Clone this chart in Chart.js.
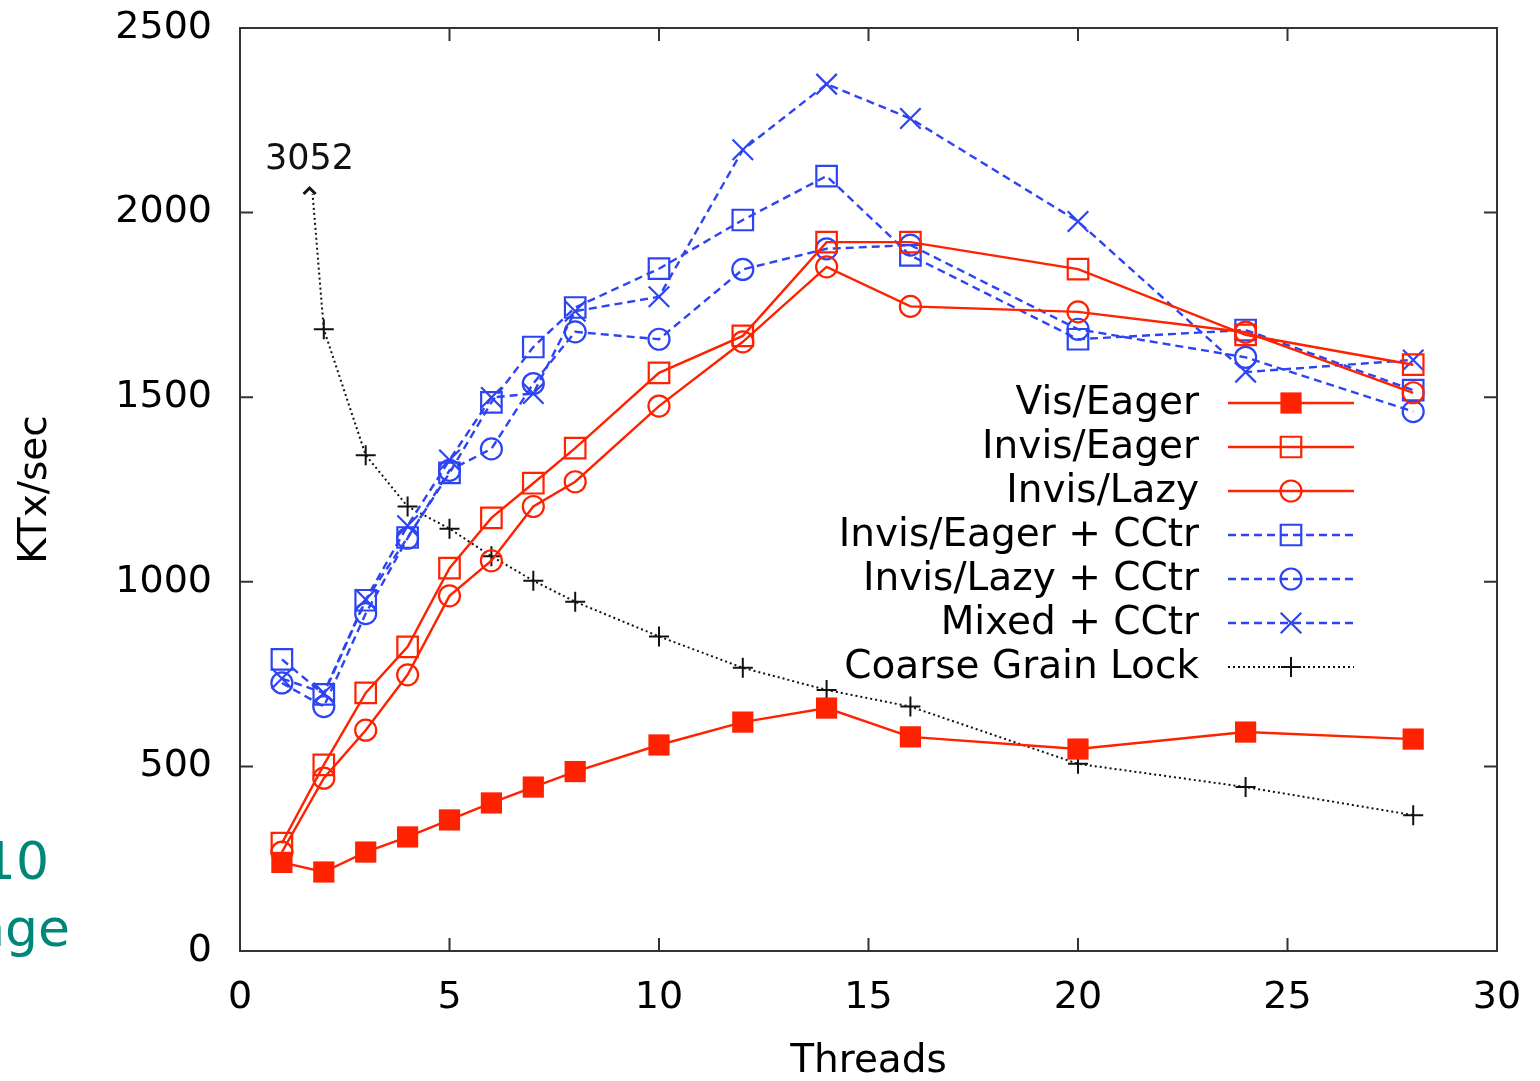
<!DOCTYPE html>
<html>
<head>
<meta charset="utf-8">
<script src="https://cdn.jsdelivr.net/npm/chart.js@4.4.1/dist/chart.umd.min.js"></script>
<style>
  html, body { margin: 0; padding: 0; background: #fff; }
</style>
</head>
<body>
<canvas id="myChart"></canvas>
<script>
// thread counts on the x axis
const threads = [1, 2, 3, 4, 5, 6, 7, 8, 10, 12, 14, 16, 20, 24, 28];

// KTx/sec
const visEager       = [240, 214, 268, 309, 355, 401, 444, 486, 558, 620, 658, 580, 547, 593, 574];
const invisEager     = [292, 504, 699, 824, 1037, 1173, 1267, 1362, 1566, 1666, 1920, 1920, 1847, 1669, 1588];
const invisLazy      = [268, 468, 598, 748, 962, 1057, 1204, 1271, 1476, 1650, 1853, 1746, 1731, 1676, 1512];
const invisEagerCC   = [790, 695, 950, 1120, 1295, 1486, 1636, 1743, 1848, 1980, 2099, 1884, 1657, 1682, 1519];
const invisLazyCC    = [726, 662, 914, 1118, 1302, 1360, 1537, 1677, 1657, 1846, 1902, 1912, 1684, 1608, 1461];
const mixedCC        = [738, 699, 952, 1152, 1330, 1499, 1510, 1733, 1772, 2170, 2348, 2255, 1976, 1568, 1601];
const coarseLock     = [3052, 1684, 1343, 1204, 1144, 1069, 1003, 946, 852, 767, 707, 662, 507, 444, 368];

const xTicks = [0, 5, 10, 15, 20, 25, 30];
const yTicks = [0, 500, 1000, 1500, 2000, 2500];

const RED = '#ff2200';
const BLUE = '#2c44f2';
const FONT = '"DejaVu Sans", "Liberation Sans", Arial, sans-serif';

function pts(arr) {
  return arr.map((v, i) => ({ x: threads[i], y: v }));
}

const data = {
  datasets: [
    {
      label: 'Vis/Eager',
      data: pts(visEager),
      borderColor: RED,
      backgroundColor: RED,
      borderWidth: 2.4,
      pointStyle: 'rect',
      pointRadius: 15,
      pointBorderWidth: 0,
    },
    {
      label: 'Invis/Eager',
      data: pts(invisEager),
      borderColor: RED,
      backgroundColor: 'rgba(0,0,0,0)',
      borderWidth: 2.4,
      pointStyle: 'rect',
      pointRadius: 14.5,
      pointBorderWidth: 2.2,
    },
    {
      label: 'Invis/Lazy',
      data: pts(invisLazy),
      borderColor: RED,
      backgroundColor: 'rgba(0,0,0,0)',
      borderWidth: 2.4,
      pointStyle: 'circle',
      pointRadius: 10.5,
      pointBorderWidth: 2.2,
    },
    {
      label: 'Invis/Eager + CCtr',
      data: pts(invisEagerCC),
      borderColor: BLUE,
      backgroundColor: 'rgba(0,0,0,0)',
      borderWidth: 2.4,
      borderDash: [8, 5],
      pointStyle: 'rect',
      pointRadius: 14.5,
      pointBorderWidth: 2.2,
    },
    {
      label: 'Invis/Lazy + CCtr',
      data: pts(invisLazyCC),
      borderColor: BLUE,
      backgroundColor: 'rgba(0,0,0,0)',
      borderWidth: 2.4,
      borderDash: [8, 5],
      pointStyle: 'circle',
      pointRadius: 10.5,
      pointBorderWidth: 2.2,
    },
    {
      label: 'Mixed + CCtr',
      data: pts(mixedCC),
      borderColor: BLUE,
      backgroundColor: 'rgba(0,0,0,0)',
      borderWidth: 2.4,
      borderDash: [8, 5],
      pointStyle: 'crossRot',
      pointRadius: 14.5,
      pointBorderWidth: 2.2,
    },
    {
      label: 'Coarse Grain Lock',
      data: pts(coarseLock),
      borderColor: '#111',
      backgroundColor: '#111',
      borderWidth: 2,
      borderDash: [2, 3],
      pointStyle: 'cross',
      pointRadius: 10,
      pointBorderWidth: 2,
      // first value (3052) is off scale: cut the line a bit under the top
      clip: { left: 0, right: 0, bottom: 0, top: -166 },
      clipTop: 166,
      offLabel: '3052',
    }
  ]
};

// gnuplot style frame with inward ticks on all four sides
const framePlugin = {
  id: 'frame',
  beforeDatasetsDraw(chart) {
    const { ctx, chartArea: a, scales } = chart;
    ctx.save();
    ctx.strokeStyle = '#333';
    ctx.lineWidth = 2;
    ctx.strokeRect(a.left, a.top, a.right - a.left, a.bottom - a.top);
    const tl = 13;
    ctx.beginPath();
    xTicks.forEach(v => {
      const px = scales.x.getPixelForValue(v);
      ctx.moveTo(px, a.bottom); ctx.lineTo(px, a.bottom - tl);
      ctx.moveTo(px, a.top); ctx.lineTo(px, a.top + tl);
    });
    yTicks.forEach(v => {
      const py = scales.y.getPixelForValue(v);
      ctx.moveTo(a.left, py); ctx.lineTo(a.left + tl, py);
      ctx.moveTo(a.right, py); ctx.lineTo(a.right - tl, py);
    });
    ctx.stroke();
    ctx.restore();
  }
};

// arrow + label where the off-scale line is cut
const offScalePlugin = {
  id: 'offScale',
  afterDatasetsDraw(chart) {
    const { ctx, chartArea: a, scales } = chart;
    chart.data.datasets.forEach(ds => {
      if (!ds.offLabel) return;
      const cutY = a.top + ds.clipTop;
      const yv = scales.y.getValueForPixel(cutY);
      const p0 = ds.data[0], p1 = ds.data[1];
      const xv = p0.x + (p0.y - yv) / (p0.y - p1.y) * (p1.x - p0.x);
      const px = scales.x.getPixelForValue(xv) - 3;
      ctx.save();
      ctx.strokeStyle = '#111';
      ctx.lineWidth = 3;
      ctx.beginPath();
      ctx.moveTo(px - 6, cutY);
      ctx.lineTo(px, cutY - 6);
      ctx.lineTo(px + 6, cutY);
      ctx.stroke();
      ctx.fillStyle = '#111';
      ctx.font = '35px ' + FONT;
      ctx.textAlign = 'center';
      ctx.textBaseline = 'middle';
      ctx.fillText(ds.offLabel, px, cutY - 34);
      ctx.restore();
    });
  }
};

// key inside the plot: right aligned text, then line sample with marker
const keyPlugin = {
  id: 'key',
  afterDatasetsDraw(chart) {
    const { ctx } = chart;
    const textRight = 1199, lineL = 1228, lineR = 1354, mark = 1291;
    const top = 403, step = 44;
    ctx.save();
    chart.data.datasets.forEach((ds, i) => {
      const y = top + i * step;
      ctx.fillStyle = '#000';
      ctx.font = '39px ' + FONT;
      ctx.textAlign = 'right';
      ctx.textBaseline = 'middle';
      ctx.fillText(ds.label, textRight, y + 1);
      ctx.strokeStyle = ds.borderColor;
      ctx.lineWidth = ds.borderWidth;
      ctx.setLineDash(ds.borderDash || []);
      ctx.beginPath();
      ctx.moveTo(lineL, y); ctx.lineTo(lineR, y);
      ctx.stroke();
      ctx.setLineDash([]);
      ctx.fillStyle = ds.backgroundColor;
      ctx.lineWidth = ds.pointBorderWidth;
      Chart.helpers.drawPoint(ctx, {
        pointStyle: ds.pointStyle,
        radius: ds.pointRadius,
        borderWidth: ds.pointBorderWidth,
        rotation: 0
      }, mark, y);
    });
    ctx.restore();
  }
};

// slide text cut off at the left edge
const slidePlugin = {
  id: 'slide',
  afterDraw(chart) {
    const { ctx } = chart;
    ctx.save();
    ctx.fillStyle = '#00877a';
    ctx.font = '52px "DejaVu Sans", sans-serif';
    ctx.textAlign = 'right';
    ctx.textBaseline = 'alphabetic';
    ctx.fillText('10', 49, 879);
    ctx.fillText('nge', 70, 946);
    ctx.restore();
  }
};

const config = {
  type: 'line',
  data: data,
  options: {
    responsive: false,
    animation: false,
    layout: { padding: { top: 28, right: 43, left: 0, bottom: 0 } },
    plugins: {
      legend: { display: false },
      tooltip: { enabled: false }
    },
    scales: {
      x: {
        type: 'linear',
        min: 0,
        max: 30,
        afterBuildTicks: s => { s.ticks = xTicks.map(v => ({ value: v })); },
        afterFit: s => { s.height = 130; s.paddingLeft = 0; s.paddingRight = 0; },
        grid: { display: false, drawTicks: false },
        border: { display: false },
        ticks: {
          color: '#000', padding: 24,
          font: { family: FONT, size: 38 },
          callback: v => String(v)
        },
        title: {
          display: true,
          text: 'Threads',
          color: '#000',
          padding: { top: 0, bottom: -4 },
          font: { family: FONT, size: 39 }
        }
      },
      y: {
        min: 0,
        max: 2500,
        afterBuildTicks: s => { s.ticks = yTicks.map(v => ({ value: v })); },
        afterFit: s => { s.width = 240; s.paddingTop = 0; s.paddingBottom = 0; },
        grid: { display: false, drawTicks: false },
        border: { display: false },
        ticks: {
          color: '#000', padding: 28,
          font: { family: FONT, size: 38 },
          callback: v => String(v)
        },
        title: {
          display: true,
          text: 'KTx/sec',
          color: '#000',
          padding: { top: 12, bottom: 0 },
          font: { family: FONT, size: 39 }
        }
      }
    }
  },
  plugins: [framePlugin, offScalePlugin, keyPlugin, slidePlugin]
};

const ctx = document.getElementById('myChart').getContext('2d');
ctx.canvas.width = 1540;
ctx.canvas.height = 1081;

const myChart = new Chart(ctx, config);
</script>
</body>
</html>
